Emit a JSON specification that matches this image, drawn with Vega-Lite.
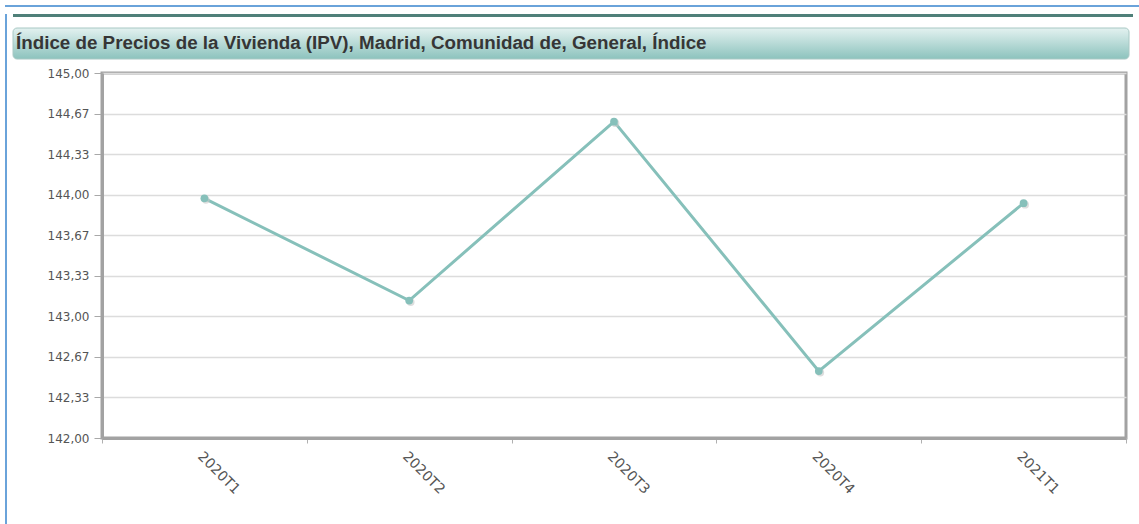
{
  "$schema": "https://vega.github.io/schema/vega-lite/v6.json",
  "padding": {"left": 5, "top": 5, "right": 0, "bottom": 0},
  "background": "white",
  "config": {"view": {"stroke": null}},
  "spacing": 7,
  "vconcat": [
    {
      "width": 1134,
      "height": 2,
      "data": {"values": [{"k": 1}]},
      "mark": {"type": "rect", "color": "#6aa3da"},
      "encoding": {}
    },
    {
      "spacing": 5,
      "hconcat": [
        {
          "width": 2,
          "height": 510,
          "data": {"values": [{"k": 1}]},
          "mark": {"type": "rect", "color": "#6aa3da"},
          "encoding": {}
        },
        {
          "spacing": 5,
          "vconcat": [
            {
              "spacing": 10,
              "vconcat": [
                {
                  "width": 1120,
                  "height": 3,
                  "data": {"values": [{"k": 1}]},
                  "mark": {"type": "rect", "color": "#4f8079"},
                  "encoding": {}
                },
                {
                  "width": 1116,
                  "height": 31,
                  "data": {"values": [{"k": 1}]},
                  "title": {
                    "text": "Índice de Precios de la Vivienda (IPV), Madrid, Comunidad de, General, Índice",
                    "anchor": "start",
                    "frame": "group",
                    "offset": -25,
                    "dx": 3,
                    "font": "Liberation Sans",
                    "fontSize": 18.8,
                    "fontWeight": "bold",
                    "color": "#363636"
                  },
                  "mark": {
                    "type": "rect",
                    "cornerRadius": 4,
                    "stroke": "#a8c8c4",
                    "strokeWidth": 1,
                    "color": {
                      "gradient": "linear",
                      "x1": 0, "y1": 0, "x2": 0, "y2": 1,
                      "stops": [
                        {"offset": 0, "color": "#e3f1f0"},
                        {"offset": 1, "color": "#8cc3bd"}
                      ]
                    }
                  },
                  "encoding": {}
                }
              ]
            },
            {
              "spacing": 0,
              "hconcat": [
                {
                  "width": 1,
                  "height": 1,
                  "data": {"values": [{"k": 1}]},
                  "mark": {"type": "rect", "opacity": 0},
                  "encoding": {}
                },
                {
                  "width": 1024,
                  "height": 365,
                  "view": {"stroke": "#a2a2a2", "strokeWidth": 3},
                  "data": {
                    "values": [
                      {"periodo": "2020T1", "valor": 143.97},
                      {"periodo": "2020T2", "valor": 143.13},
                      {"periodo": "2020T3", "valor": 144.60},
                      {"periodo": "2020T4", "valor": 142.55},
                      {"periodo": "2021T1", "valor": 143.93}
                    ]
                  },
                  "encoding": {
                    "x": {
                      "field": "periodo",
                      "type": "nominal",
                      "sort": null,
                      "scale": {"type": "band", "paddingInner": 0, "paddingOuter": 0},
                      "axis": {
                        "title": null,
                        "labelAngle": 45,
                        "tickBand": "extent",
                        "tickSize": 5,
                        "tickColor": "#b0b0b0",
                        "domainColor": "#a2a2a2",
                        "domainWidth": 3,
                        "labelFont": "DejaVu Sans",
                        "labelFontSize": 14,
                        "labelColor": "#555555",
                        "labelPadding": 6,
                        "grid": false
                      }
                    },
                    "y": {
                      "field": "valor",
                      "type": "quantitative",
                      "scale": {"domain": [142, 145], "nice": false, "zero": false},
                      "axis": {
                        "title": null,
                        "values": [142, 142.333333, 142.666667, 143, 143.333333, 143.666667, 144, 144.333333, 144.666667, 145],
                        "labelExpr": "replace(format(datum.value, '.2f'), '.', ',')",
                        "tickSize": 8,
                        "tickColor": "#a8a8a8",
                        "domainColor": "#a2a2a2",
                        "domainWidth": 3,
                        "gridColor": "#dcdcdc",
                        "gridWidth": 1.5,
                        "labelFont": "DejaVu Sans",
                        "labelFontSize": 12,
                        "labelColor": "#555555",
                        "labelPadding": 5,
                        "minExtent": 86,
                        "maxExtent": 86
                      }
                    }
                  },
                  "layer": [
                    {"mark": {"type": "line", "color": "#86c0ba", "strokeWidth": 3}},
                    {"mark": {"type": "circle", "color": "#c8c8c8", "size": 60, "opacity": 0.6, "xOffset": 1.5, "yOffset": 1.5}},
                    {"mark": {"type": "circle", "color": "#86c0ba", "size": 60, "opacity": 1}}
                  ]
                }
              ]
            }
          ]
        }
      ]
    }
  ]
}
